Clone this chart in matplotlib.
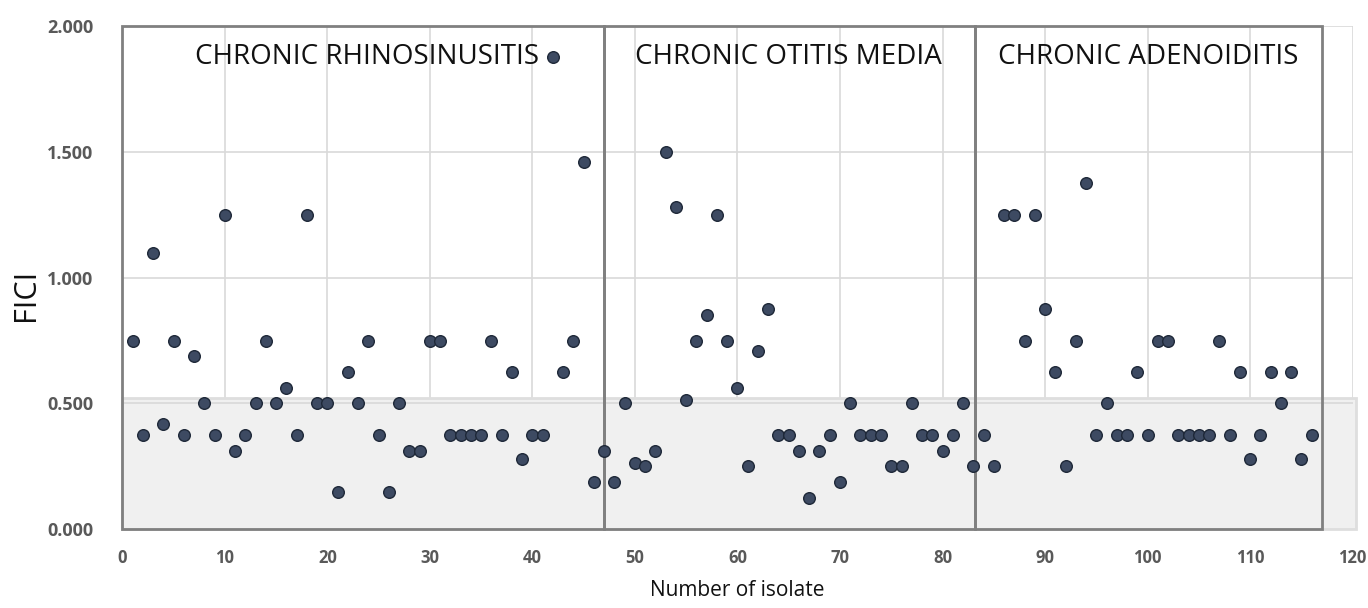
import matplotlib
matplotlib.use("Agg")
import matplotlib.pyplot as plt
from matplotlib.patches import Rectangle

# FICI value for each isolate, grouped by clinical source
rhinosinusitis = [0.75, 0.375, 1.1, 0.42, 0.75, 0.375, 0.6875, 0.5, 0.375, 1.25,
                  0.3125, 0.375, 0.5, 0.75, 0.5, 0.5625, 0.375, 1.25, 0.5, 0.5,
                  0.15, 0.625, 0.5, 0.75, 0.375, 0.15, 0.5, 0.3125, 0.3125, 0.75,
                  0.75, 0.375, 0.375, 0.375, 0.375, 0.75, 0.375, 0.625, 0.28, 0.375,
                  0.375, 1.875, 0.625, 0.75, 1.46, 0.1875, 0.3125]
otitis_media = [0.1875, 0.5, 0.265, 0.25, 0.3125, 1.5, 1.28, 0.515, 0.75, 0.85,
                1.25, 0.75, 0.5625, 0.25, 0.71, 0.875, 0.375, 0.375, 0.3125, 0.125,
                0.3125, 0.375, 0.1875, 0.5, 0.375, 0.375, 0.375, 0.25, 0.25, 0.5,
                0.375, 0.375, 0.3125, 0.375, 0.5, 0.25]
adenoiditis = [0.375, 0.25, 1.25, 1.25, 0.75, 1.25, 0.875, 0.625, 0.25, 0.75,
               1.375, 0.375, 0.5, 0.375, 0.375, 0.625, 0.375, 0.75, 0.75, 0.375,
               0.375, 0.375, 0.375, 0.75, 0.375, 0.625, 0.28, 0.375, 0.625, 0.5,
               0.625, 0.28, 0.375]

group_names = ["CHRONIC RHINOSINUSITIS", "CHRONIC OTITIS MEDIA", "CHRONIC ADENOIDITIS"]
x_ticks = [0, 10, 20, 30, 40, 50, 60, 70, 80, 90, 100, 110, 120]
y_ticks = [0.0, 0.5, 1.0, 1.5, 2.0]
synergy_cutoff = 0.52

fici = rhinosinusitis + otitis_media + adenoiditis
isolates = list(range(1, len(fici) + 1))

# group boundaries on the isolate axis
b1 = len(rhinosinusitis)
b2 = b1 + len(otitis_media) + 0.17
b3 = len(fici) + 1
group_spans = [(0, b1), (b1, b2), (b2, b3)]
label_x = [23.9, 65.0, 100.1]

plt.rcParams["font.family"] = "Open Sans"
plt.rcParams["xtick.labelsize"] = 12
plt.rcParams["ytick.labelsize"] = 13
plt.rcParams["xtick.color"] = "#595959"
plt.rcParams["ytick.color"] = "#595959"

fig = plt.figure(figsize=(13.68, 6.08), dpi=100)
ax = fig.add_axes([0.0895, 0.1294, 0.8992, 0.8278])
ax.set_xlim(0, 120)
ax.set_ylim(0, 2.0)

for s in ax.spines.values():
    s.set_visible(False)

ax.grid(True, color="#d9d9d9", linewidth=1.2, zorder=0)
ax.set_axisbelow(True)

ax.set_xticks(x_ticks, [str(t) for t in x_ticks])
ax.set_yticks(y_ticks, [f"{t:.3f}" for t in y_ticks])
ax.tick_params(length=0)
ax.tick_params(axis="y", pad=21)
ax.tick_params(axis="x", pad=14)
for lab in ax.get_xticklabels() + ax.get_yticklabels():
    lab.set_fontweight("bold")

# shaded synergy band
ax.add_patch(Rectangle((0, 0), 120.3, synergy_cutoff, facecolor="#f0f0f0",
                       edgecolor="#dedede", linewidth=2, zorder=1, clip_on=False))
ax.axhline(0.5, color="#d9d9d9", linewidth=1.2, zorder=1.5)

# boxes around each clinical group
for (x0, x1) in group_spans:
    ax.add_patch(Rectangle((x0, 0), x1 - x0, 2.0, facecolor="none",
                           edgecolor="#808080", linewidth=2, zorder=2, clip_on=False))

for name, lx in zip(group_names, label_x):
    ax.text(lx, 1.848, name, ha="center", va="baseline", fontsize=20,
            color="#111111", zorder=4)

ax.scatter(isolates, fici, s=70, color="#3d4a62", edgecolors="#1e2838",
           linewidths=1.0, zorder=5, clip_on=False)

fig.text(0.019, 0.515, "FICI", rotation=90, ha="center", va="center",
         fontsize=22, color="#111111")
fig.text(0.539, 0.028, "Number of isolate", ha="center", va="center",
         fontsize=15, color="#111111")

fig.savefig("out.png", dpi=100)
